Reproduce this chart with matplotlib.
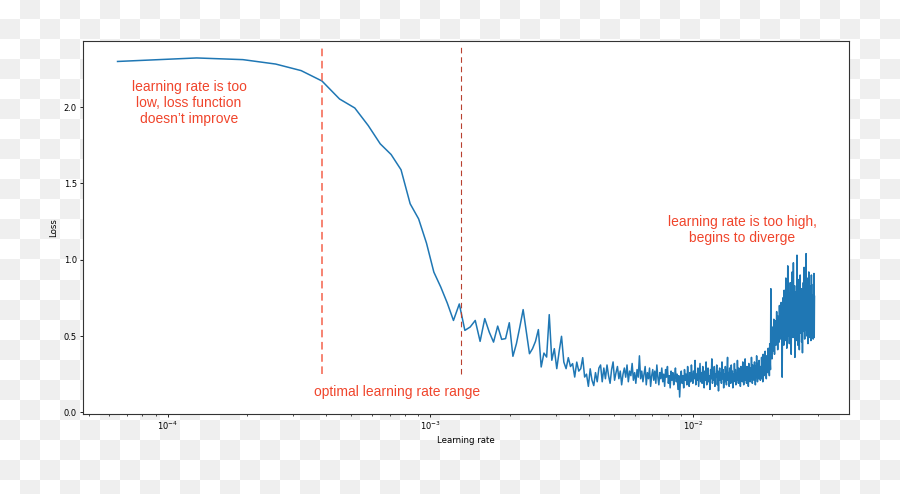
import numpy as np
import matplotlib
matplotlib.use("Agg")
import matplotlib.pyplot as plt

# learning rate grows linearly by this step per batch
LR_STEP = 6.44e-5

# smooth start, k = 1..21
loss_start = [2.300, 2.323, 2.312, 2.283, 2.240, 2.172, 2.054, 1.995, 1.880, 1.760,
              1.690, 1.590, 1.367, 1.268, 1.109, 0.919, 0.821, 0.716, 0.602, 0.710,
              0.537]
# noisy descent, k = 22..69
loss_range = [0.559, 0.602, 0.465, 0.614, 0.526, 0.460, 0.565, 0.478, 0.483, 0.587,
              0.367, 0.450, 0.560, 0.673, 0.526, 0.384, 0.417, 0.465, 0.542, 0.297,
              0.388, 0.362, 0.640, 0.341, 0.417, 0.286, 0.400, 0.498, 0.329, 0.286,
              0.358, 0.300, 0.319, 0.231, 0.329, 0.270, 0.286, 0.358, 0.231, 0.250,
              0.170, 0.285, 0.210, 0.175, 0.260, 0.200, 0.290, 0.310]
# flat bottom, k = 70..166
loss_flat1 = [0.20, 0.29, 0.22, 0.31, 0.24, 0.19, 0.28, 0.33, 0.21, 0.26,
              0.30, 0.22, 0.27, 0.18, 0.25, 0.29, 0.23, 0.31, 0.20, 0.27,
              0.24, 0.32, 0.21, 0.26, 0.19, 0.28, 0.23, 0.37, 0.22, 0.27,
              0.20, 0.25, 0.30, 0.18, 0.26, 0.22, 0.29, 0.17, 0.24, 0.28,
              0.21, 0.27, 0.19, 0.31, 0.23, 0.18, 0.26, 0.22, 0.29, 0.20,
              0.25, 0.17, 0.28, 0.23, 0.30, 0.19, 0.24, 0.16, 0.27, 0.21,
              0.26, 0.18, 0.23, 0.29, 0.20, 0.25, 0.15, 0.24, 0.10, 0.22,
              0.27, 0.19, 0.24, 0.16, 0.28, 0.21, 0.25, 0.18, 0.30, 0.22,
              0.17, 0.26, 0.20, 0.31, 0.23, 0.19, 0.27, 0.22, 0.34, 0.18,
              0.25, 0.21, 0.29, 0.17, 0.24, 0.32, 0.20]
# flat bottom, k = 167..280
loss_flat2 = [0.26, 0.19, 0.30, 0.22, 0.16, 0.27, 0.21, 0.33, 0.18, 0.25,
              0.29, 0.20, 0.24, 0.15, 0.28, 0.22, 0.35, 0.19, 0.26, 0.21,
              0.30, 0.17, 0.25, 0.23, 0.31, 0.18, 0.27, 0.14, 0.24, 0.29,
              0.21, 0.26, 0.19, 0.33, 0.22, 0.28, 0.16, 0.25, 0.20, 0.30,
              0.23, 0.18, 0.27, 0.36, 0.21, 0.26, 0.17, 0.29, 0.24, 0.19,
              0.31, 0.22, 0.27, 0.16, 0.25, 0.20, 0.32, 0.23, 0.28, 0.18,
              0.26, 0.21, 0.34, 0.24, 0.19, 0.29, 0.22, 0.27, 0.17, 0.30,
              0.23, 0.28, 0.20, 0.33, 0.25, 0.18, 0.27, 0.22, 0.35, 0.21,
              0.26, 0.19, 0.30, 0.24, 0.28, 0.17, 0.32, 0.23, 0.27, 0.20,
              0.29, 0.22, 0.36, 0.25, 0.19, 0.31, 0.24, 0.28, 0.21, 0.33,
              0.26, 0.18, 0.30, 0.23, 0.37, 0.25, 0.20, 0.32, 0.27, 0.22,
              0.34, 0.24, 0.29, 0.21]
# starts rising, k = 281..334
loss_rise = [0.30, 0.22, 0.36, 0.26, 0.33, 0.20, 0.38, 0.28, 0.24, 0.35,
             0.27, 0.40, 0.25, 0.31, 0.22, 0.37, 0.29, 0.34, 0.26, 0.42,
             0.30, 0.36, 0.24, 0.45, 0.33, 0.28, 0.81, 0.38, 0.44, 0.35,
             0.50, 0.40, 0.56, 0.43, 0.61, 0.47, 0.38, 0.55, 0.49, 0.60,
             0.44, 0.52, 0.66, 0.48, 0.58, 0.41, 0.63, 0.50, 0.57, 0.46,
             0.70, 0.53, 0.48, 0.62]
# diverging, k = 335..450
loss_diverge = [0.55, 0.72, 0.48, 0.66, 0.23, 0.61, 0.75, 0.52, 0.68, 0.44,
                0.80, 0.57, 0.70, 0.47, 0.63, 0.88, 0.55, 0.74, 0.42, 0.67,
                0.59, 0.96, 0.64, 0.50, 0.78, 0.61, 0.45, 0.72, 0.58, 0.85,
                0.53, 0.69, 0.38, 0.76, 0.62, 0.92, 0.56, 0.71, 0.49, 0.98,
                0.60, 0.75, 0.51, 0.83, 0.36, 0.66, 0.58, 0.79, 0.47, 0.70,
                0.62, 1.03, 0.55, 0.73, 0.44, 0.68, 0.87, 0.57, 0.64, 0.41,
                0.77, 0.59, 0.90, 0.52, 0.70, 0.63, 0.81, 0.46, 0.67, 0.74,
                0.39, 0.72, 0.58, 0.85, 0.61, 0.53, 0.95, 0.66, 0.48, 0.76,
                0.60, 0.82, 0.54, 1.04, 0.63, 0.71, 0.50, 0.88, 0.57, 0.69,
                0.45, 0.78, 0.62, 0.92, 0.55, 0.67, 0.74, 0.49, 0.83, 0.58,
                0.71, 0.47, 0.64, 0.90, 0.56, 0.60, 0.75, 0.50, 0.68, 0.77,
                0.48, 0.84, 0.55, 0.91, 0.49, 0.76]

losses = loss_start + loss_range + loss_flat1 + loss_flat2 + loss_rise + loss_diverge
lrs = LR_STEP * np.arange(1, len(losses) + 1)

# bounds of the "optimal" range marked on the chart
range_lo = 3.86e-4
range_hi = 1.31e-3
# vertical extent of the marker lines, as a fraction of the axes height
mark_lo, mark_hi = 0.107, 0.986

RED = "#f0452c"


def main():
    fig = plt.figure(figsize=(9, 4.94), dpi=100)

    # transparent-background checkerboard seen around the plot
    bg = fig.add_axes([0, 0, 1, 1], zorder=0)
    rows, cols = np.indices((25, 45))
    checker = np.where((rows + cols) % 2 == 1, 239, 255)
    bg.imshow(checker, cmap="gray", vmin=0, vmax=255, extent=(0, 900, 500, 0),
              interpolation="nearest", aspect="auto")
    bg.set_xlim(0, 900)
    bg.set_ylim(494, 0)
    bg.axis("off")

    ax = fig.add_axes([0.0919, 0.162, 0.8518, 0.755], zorder=1)
    ax.set_facecolor("white")
    ax.plot(lrs, losses, color="#1f77b4", lw=1.1)
    ax.set_xscale("log")

    ax.axvline(range_lo, mark_lo, mark_hi, color="#f4624c", ls=(0, (5, 3)), lw=1.1)
    ax.axvline(range_hi, mark_lo, mark_hi, color="#b8402f", ls=(0, (5, 3.5)), lw=0.8)

    ax.set_xlabel("Learning rate", fontsize=6.2, labelpad=3)
    ax.set_ylabel("Loss", fontsize=6.2, labelpad=4)
    ax.tick_params(labelsize=6, length=2.2, width=0.6, pad=2)
    ax.tick_params(which="minor", length=1.3, width=0.5)
    for s in ax.spines.values():
        s.set_linewidth(0.8)
        s.set_color("#333333")

    kw = dict(transform=ax.transAxes, color=RED, fontsize=10, ha="center",
              va="center", family=["Liberation Sans", "DejaVu Sans"])
    ax.text(0.1387, 0.834, "learning rate is too\nlow, loss function\ndoesn\u2019t improve", **kw)
    ax.text(0.4106, 0.0598, "optimal learning rate range", **kw)
    ax.text(0.860, 0.493, "learning rate is too high,\nbegins to diverge", **kw)

    fig.savefig("out.png", dpi=100)


if __name__ == "__main__":
    main()
